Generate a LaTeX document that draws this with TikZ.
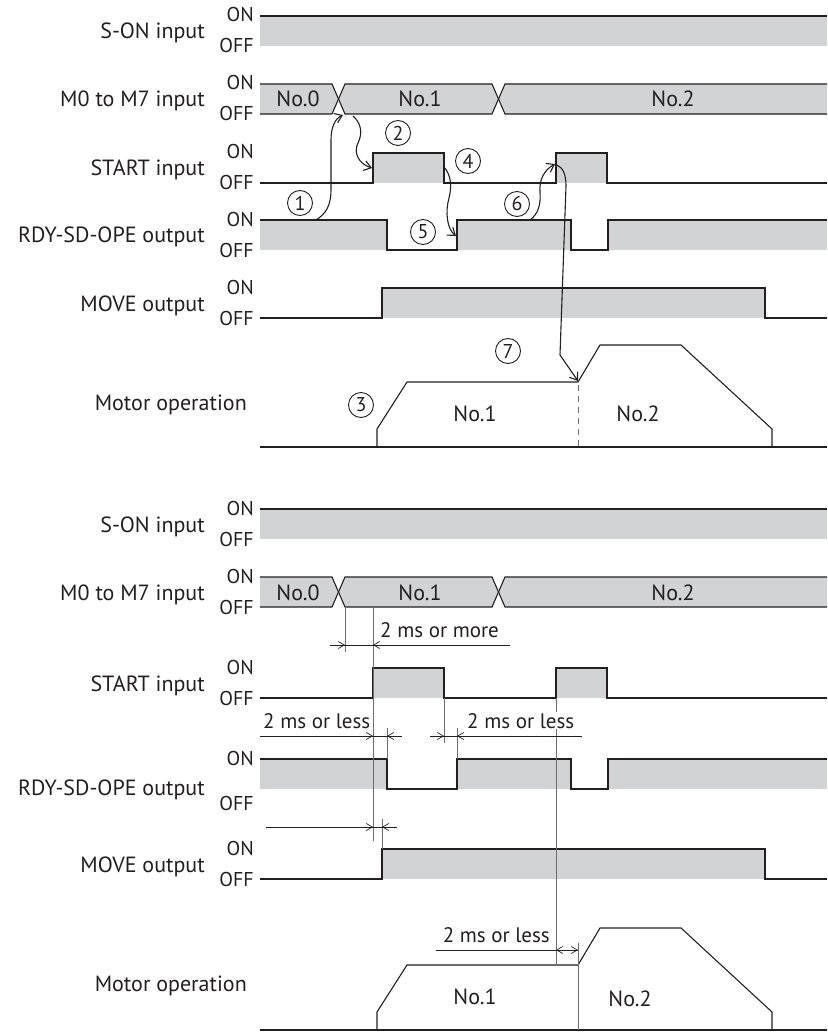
\documentclass[tikz,border=0pt]{standalone}
\usepackage{fontspec}
\setmainfont{PT Sans}
\usetikzlibrary{arrows.meta}
\definecolor{band}{HTML}{D1D3D4}
\definecolor{ink}{HTML}{231F20}
\definecolor{dimc}{HTML}{6D6E71}
\tikzset{
  wave/.style={draw=ink, line width=1.1pt},
  lab/.style={anchor=base east, inner sep=0pt, text=ink, font=\fontsize{22}{22}\selectfont},
  onoff/.style={anchor=base east, inner sep=0pt, text=ink, font=\fontsize{20}{20}\selectfont},
  numtxt/.style={anchor=base, inner sep=0pt, text=ink, font=\fontsize{22}{22}\selectfont},
  dimtxt/.style={inner sep=1pt, text=ink, fill=white, font=\fontsize{21}{21}\selectfont},
  circ/.style={circle, draw=ink, line width=0.9pt, minimum size=25pt, inner sep=0pt, text=ink, font=\fontsize{20}{20}\selectfont},
  conn/.style={draw=ink, line width=1.1pt, -{Straight Barb[length=7pt,width=10pt,line width=1.1pt]}},
  dimline/.style={draw=ink, line width=0.7pt},
  tick/.style={draw=dimc, line width=0.9pt},
  barb/.style={draw=ink, line width=0.7pt, -{Straight Barb[length=6pt,width=7pt,line width=0.7pt]}},
}
\begin{document}
\begin{tikzpicture}[x=1pt,y=-1pt]
\useasboundingbox (0,0) rectangle (827,1032);

% ---------------- waveforms (top and bottom sections) ----------------
% S-ON
\foreach \dy in {0,493}{
\begin{scope}[shift={(0,\dy)}]
  \fill[band] (260,16) rectangle (827,46);
  \draw[wave] (260,16) -- (827,16);
\end{scope}}
% M0 to M7
\foreach \dy in {0,493}{
\begin{scope}[shift={(0,\dy)}]
  \fill[band] (260,84) -- (332,84) -- (338.5,99) -- (332,114) -- (260,114) -- cycle;
  \fill[band] (338.5,99) -- (345,84) -- (492,84) -- (498.5,99) -- (492,114) -- (345,114) -- cycle;
  \fill[band] (498.5,99) -- (505,84) -- (827,84) -- (827,114) -- (505,114) -- cycle;
  \draw[wave] (260,84) -- (332,84) -- (345,114) -- (492,114) -- (505,84) -- (827,84);
  \draw[wave] (260,114) -- (332,114) -- (345,84) -- (492,84) -- (505,114) -- (827,114);
  \node[numtxt] at (298,107) {No.0};
  \node[numtxt] at (420,107) {No.1};
  \node[numtxt] at (673,107) {No.2};
\end{scope}}
% START
\foreach \dy in {0,515}{
\begin{scope}[shift={(0,\dy)}]
  \fill[band] (373,153) rectangle (444,183);
  \fill[band] (556,153) rectangle (607,183);
  \draw[wave] (260,183) -- (373,183) -- (373,153) -- (444,153) -- (444,183) -- (556,183) -- (556,153) -- (607,153) -- (607,183) -- (827,183);
\end{scope}}
% RDY-SD-OPE
\foreach \dy in {0,539}{
\begin{scope}[shift={(0,\dy)}]
  \fill[band] (260,220) rectangle (387,250);
  \fill[band] (457,220) rectangle (571,250);
  \fill[band] (608,220) rectangle (827,250);
  \draw[wave] (260,220) -- (387,220) -- (387,250) -- (457,250) -- (457,220) -- (571,220) -- (571,250) -- (608,250) -- (608,220) -- (827,220);
\end{scope}}
% MOVE
\foreach \dy in {0,561}{
\begin{scope}[shift={(0,\dy)}]
  \fill[band] (382,288) rectangle (765,318);
  \draw[wave] (260,318) -- (382,318) -- (382,288) -- (765,288) -- (765,318) -- (827,318);
\end{scope}}
% Motor operation
\foreach \dy in {0,583}{
\begin{scope}[shift={(0,\dy)}]
  \draw[wave] (260,447) -- (827,447);
  \draw[wave] (377,447) -- (377,429) -- (407,382) -- (578,382) -- (600,345) -- (681,345) -- (772,429) -- (772,447);
  \node[numtxt] at (475,421) {No.1};
\end{scope}}
\node[numtxt] at (638,421) {No.2};
\node[numtxt] at (630,1006) {No.2};
\draw[draw=dimc, line width=1pt, dash pattern=on 6pt off 5pt] (578,385) -- (578,447);

% ---------------- labels ----------------
\node[lab] at (205,39) {S-ON input};
\node[onoff] at (254,22) {ON};
\node[onoff] at (254,53) {OFF};
\node[lab] at (205,107) {M0 to M7 input};
\node[onoff] at (254,90) {ON};
\node[onoff] at (254,121) {OFF};
\node[lab] at (205,176) {START input};
\node[onoff] at (254,159) {ON};
\node[onoff] at (254,190) {OFF};
\node[lab] at (205,243) {RDY-SD-OPE output};
\node[onoff] at (254,226) {ON};
\node[onoff] at (254,257) {OFF};
\node[lab] at (205,311) {MOVE output};
\node[onoff] at (254,294) {ON};
\node[onoff] at (254,325) {OFF};
\node[lab] at (247,410) {Motor operation};

\node[lab] at (205,532) {S-ON input};
\node[onoff] at (254,515) {ON};
\node[onoff] at (254,546) {OFF};
\node[lab] at (205,600) {M0 to M7 input};
\node[onoff] at (254,583) {ON};
\node[onoff] at (254,614) {OFF};
\node[lab] at (205,691) {START input};
\node[onoff] at (254,674) {ON};
\node[onoff] at (254,705) {OFF};
\node[lab] at (205,795) {RDY-SD-OPE output};
\node[onoff] at (254,765) {ON};
\node[onoff] at (254,810) {OFF};
\node[lab] at (205,872) {MOVE output};
\node[onoff] at (254,855) {ON};
\node[onoff] at (254,886) {OFF};
\node[lab] at (247,991) {Motor operation};

% ---------------- top: numbered steps and connectors ----------------
\node[circ] (n1) at (300,203) {1};
\node[circ] (n2) at (398,133) {2};
\node[circ] (n3) at (361,405) {3};
\node[circ] (n4) at (468,161) {4};
\node[circ] (n5) at (423,232) {5};
\node[circ] (n6) at (517,204) {6};
\node[circ] (n7) at (508,351) {7};

\coordinate (a1s) at (316,220);
\coordinate (a1e) at (343,115);
\coordinate (a2s) at (353,116);
\coordinate (a2e) at (372,168);
\coordinate (a4s) at (444,167);
\coordinate (a4e) at (456,236);
\coordinate (a6s) at (530,220);
\coordinate (a6e) at (555,164);
\coordinate (a7s) at (557,165);
\coordinate (a7e) at (578,381);

\draw[conn] (a1s) .. controls (326,214) and (331,205) .. (331,190) -- (331,140) .. controls (331,126) and (336,118) .. (a1e);
\draw[conn] (a2s) .. controls (361,123) and (363,133) .. (358,143) .. controls (353,153) and (359,164) .. (a2e);
\draw[conn] (a4s) .. controls (451,175) and (452,186) .. (449,198) .. controls (445,212) and (447,229) .. (a4e);
\draw[conn] (a6s) .. controls (538,214) and (541,205) .. (540,192) .. controls (539,180) and (544,170) .. (a6e);
\draw[conn] (a7s) .. controls (563,168) and (566,174) .. (566,186) -- (560,355) -- (a7e);

% ---------------- bottom: timing dimensions ----------------
% extension lines
\draw[tick] (345,607) -- (345,652);
\draw[tick] (373,607) -- (373,841);
\draw[tick] (444,698) -- (444,743);
\draw[tick] (387,728) -- (387,759);
\draw[tick] (457,728) -- (457,759);
\draw[tick] (556,698) -- (556,965);
\draw[tick] (382,819) -- (382,849);
\draw[tick] (578,943) -- (578,1030);

% 2 ms or more
\coordinate (d1a) at (330,645);
\coordinate (d1b) at (510,645);
\draw[dimline] (d1a) -- (d1b);
\draw[barb] (337,645) -- (345,645);
\draw[barb] (381,645) -- (373,645);
\node[dimtxt, anchor=base west] at (379,637) {2 ms or more};

% 2 ms or less (left)
\coordinate (d2a) at (260,736);
\coordinate (d2b) at (402,736);
\draw[dimline] (d2a) -- (d2b);
\draw[barb] (365,736) -- (373,736);
\draw[barb] (395,736) -- (387,736);
\node[dimtxt, anchor=base west] at (262,728) {2 ms or less};

% 2 ms or less (right)
\coordinate (d3a) at (430,736);
\coordinate (d3b) at (582,736);
\draw[dimline] (d3a) -- (d3b);
\draw[barb] (436,736) -- (444,736);
\draw[barb] (465,736) -- (457,736);
\node[dimtxt, anchor=base west] at (466,728) {2 ms or less};

% MOVE delay
\coordinate (d4a) at (266,827);
\coordinate (d4b) at (397,827);
\draw[dimline] (d4a) -- (d4b);
\draw[barb] (365,827) -- (373,827);
\draw[barb] (390,827) -- (382,827);

% motor change delay
\coordinate (d5a) at (436,950);
\coordinate (d5b) at (578,950);
\draw[dimline] (d5a) -- (d5b);
\draw[barb] (564,950) -- (556,950);
\draw[barb] (570,950) -- (578,950);
\node[dimtxt, anchor=base east] at (551,942) {2 ms or less};

\end{tikzpicture}
\end{document}
